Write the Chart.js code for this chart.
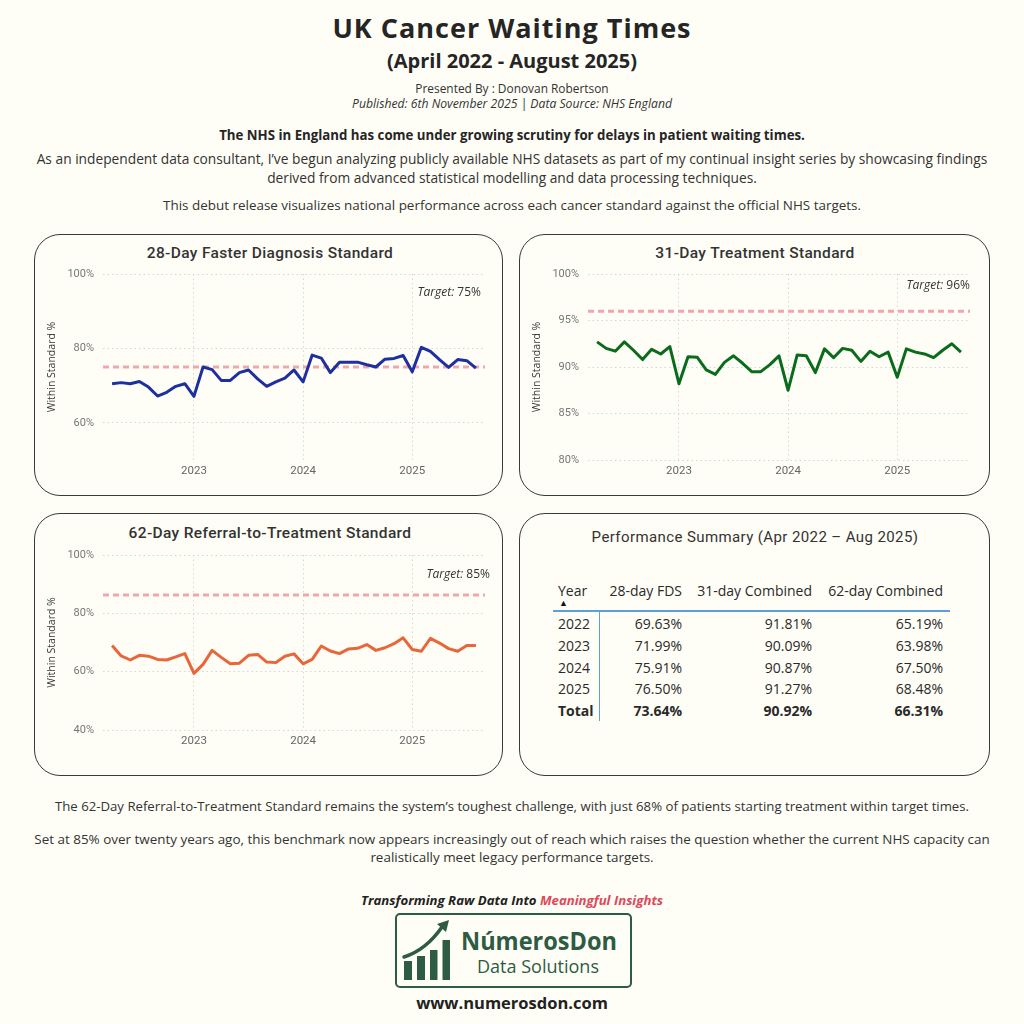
<!DOCTYPE html>
<html>
<head>
<meta charset="UTF-8">
<title>UK Cancer Waiting Times</title>
<script src="https://cdn.jsdelivr.net/npm/chart.js"></script>
<style>
  html, body { margin: 0; padding: 0; }
  body {
    width: 1024px; height: 1024px; position: relative; overflow: hidden;
    background: #fefef6; color: #252525;
    font-family: "Open Sans", sans-serif;
  }
  .t { position: absolute; left: 0; width: 1024px; text-align: center; white-space: nowrap; }
  .card { position: absolute; border: 1px solid #3a3a3a; border-radius: 26px; box-sizing: border-box; }
  .ctitle {
    position: absolute; width: 470px; text-align: center; white-space: nowrap;
    font-family: Roboto, sans-serif; font-size: 15.5px; font-weight: 500; letter-spacing: 0.35px; color: #333;
    line-height: 20px;
  }
  canvas { position: absolute; }
  .cell { position: absolute; font-size: 14px; line-height: 18px; color: #2a2a2a; white-space: nowrap; }
</style>
</head>
<body>

<div class="t" style="top:12px; font-size:27px; line-height:32px; font-weight:700; letter-spacing:1px;">UK Cancer Waiting Times</div>
<div class="t" style="top:49px; font-size:20px; line-height:24px; font-weight:700;">(April 2022 - August 2025)</div>
<div class="t" style="top:80px; font-size:11.9px; line-height:16px; color:#333;">Presented By : Donovan Robertson</div>
<div class="t" style="top:96px; font-size:12.2px; line-height:16px; font-style:italic; color:#333;">Published: 6th November 2025 | Data Source: NHS England</div>
<div class="t" style="top:127px; font-size:13.25px; line-height:16px; font-weight:700;">The NHS in England has come under growing scrutiny for delays in patient waiting times.</div>
<div class="t" style="top:149px; font-size:13.75px; line-height:19px; color:#333;">As an independent data consultant, I’ve begun analyzing publicly available NHS datasets as part of my continual insight series by showcasing findings<br>derived from advanced statistical modelling and data processing techniques.</div>
<div class="t" style="top:197px; font-size:13.45px; line-height:16px; color:#333;">This debut release visualizes national performance across each cancer standard against the official NHS targets.</div>

<div class="card" style="left:34px; top:234px; width:469px; height:262px;"></div>
<div class="card" style="left:519px; top:234px; width:471px; height:262px;"></div>
<div class="card" style="left:34px; top:513px; width:469px; height:263px;"></div>
<div class="card" style="left:519px; top:513px; width:471px; height:263px;"></div>

<div class="ctitle" style="left:35px; top:243px;">28-Day Faster Diagnosis Standard</div>
<div class="ctitle" style="left:520px; top:243px;">31-Day Treatment Standard</div>
<div class="ctitle" style="left:35px; top:523px;">62-Day Referral-to-Treatment Standard</div>
<div class="ctitle" style="left:520px; top:527px; font-size:15px; font-weight:400; letter-spacing:0.4px;">Performance Summary (Apr 2022 – Aug 2025)</div>

<canvas id="c1" width="464" height="225" style="left:36px; top:264px;"></canvas>
<canvas id="c2" width="464" height="225" style="left:521px; top:264px;"></canvas>
<canvas id="c3" width="464" height="214" style="left:36px; top:545px;"></canvas>

<div id="table"></div>

<div class="t" style="top:798px; font-size:13.2px; line-height:16px; color:#333;">The 62-Day Referral-to-Treatment Standard remains the system’s toughest challenge, with just 68% of patients starting treatment within target times.</div>
<div class="t" style="top:830px; font-size:13.45px; line-height:18px; color:#333;">Set at 85% over twenty years ago, this benchmark now appears increasingly out of reach which raises the question whether the current NHS capacity can<br>realistically meet legacy performance targets.</div>

<div class="t" style="top:892px; font-size:13.2px; line-height:17px; font-weight:700; font-style:italic; color:#222;">Transforming Raw Data Into <span style="color:#e0485a;">Meaningful Insights</span></div>

<svg style="position:absolute; left:395px; top:913px;" width="237" height="75" viewBox="0 0 237 75">
  <rect x="1" y="1" width="235" height="73" rx="4" fill="none" stroke="#2e5b43" stroke-width="2"/>
  <rect x="9" y="48" width="8" height="19" fill="#2e5b43"/>
  <rect x="22" y="43" width="8" height="24" fill="#2e5b43"/>
  <rect x="35" y="37" width="7.5" height="30" fill="#2e5b43"/>
  <rect x="47.5" y="27" width="7.5" height="40" fill="#2e5b43"/>
  <path d="M9 44 Q 31 37 47 14" fill="none" stroke="#2e5b43" stroke-width="3.5" stroke-linecap="round"/>
  <polygon points="54,7 42,11 51,19" fill="#2e5b43"/>
  <text x="66" y="36.5" font-family="Open Sans" font-weight="700" font-size="25" fill="#2e5b43" textLength="156" lengthAdjust="spacingAndGlyphs">NúmerosDon</text>
  <text x="82" y="59.5" font-family="Open Sans" font-size="17.5" fill="#2e5b43" textLength="122" lengthAdjust="spacingAndGlyphs">Data Solutions</text>
</svg>

<div class="t" style="top:993px; font-size:16.5px; line-height:20px; font-weight:700; color:#222;">www.numerosdon.com</div>

<script>
// monthly series, April 2022 (index 0) to August 2025 (index 40)
const fdsValues = [70.5, 70.8, 70.5, 71.1, 69.6, 67.2, 68.2, 69.8, 70.5, 67.1,
  75.0, 74.3, 71.4, 71.4, 73.5, 74.2, 71.8, 69.8, 71.0, 72.0,
  74.2, 71.0, 78.2, 77.4, 73.5, 76.3, 76.3, 76.3, 75.6, 75.0,
  77.1, 77.3, 78.1, 73.7, 80.3, 79.2, 77.0, 74.9, 77.0, 76.7, 74.7];
const treatValues = [92.7, 92.0, 91.7, 92.7, 91.8, 90.8, 91.9, 91.4, 92.2, 88.2,
  91.1, 91.05, 89.7, 89.2, 90.5, 91.2, 90.4, 89.5, 89.5, 90.25,
  91.2, 87.5, 91.3, 91.2, 89.4, 91.95, 91.0, 92.0, 91.8, 90.6,
  91.7, 91.1, 91.6, 88.9, 91.95, 91.6, 91.4, 91.0, 91.8, 92.5, 91.6];
const rttValues = [69.0, 65.4, 64.0, 65.6, 65.3, 64.2, 64.0, 65.1, 66.2, 59.4,
  62.5, 67.3, 64.9, 62.7, 62.9, 65.6, 65.9, 63.3, 63.1, 65.3,
  66.1, 62.7, 64.2, 68.8, 67.1, 66.2, 67.8, 68.0, 69.3, 67.3,
  68.2, 69.6, 71.6, 67.6, 67.0, 71.4, 69.8, 67.9, 67.0, 69.0, 69.0];

const yearTicks = [9, 21, 33];           // January of each year
const yearLabels = ['2023', '2024', '2025'];

const fdsTicks = [60, 80, 100];
const treatTicks = [80, 85, 90, 95, 100];
const rttTicks = [40, 60, 80, 100];

const fdsTarget = 75, treatTarget = 96, rttTarget = 85;
const rttTargetLine = 86.3;

// summary table
const tableHeaders = ['Year', '28-day FDS', '31-day Combined', '62-day Combined'];
const tableYears = ['2022', '2023', '2024', '2025', 'Total'];
const fdsYearly = [69.63, 71.99, 75.91, 76.50, 73.64];
const treatYearly = [91.81, 90.09, 90.87, 91.27, 90.92];
const rttYearly = [65.19, 63.98, 67.50, 68.48, 66.31];

const xMin = -1, xMax = 41;

const targetLabel = {
  id: 'targetLabel',
  afterDraw(chart, args, opts) {
    const { ctx, chartArea } = chart;
    ctx.save();
    ctx.textBaseline = 'middle';
    ctx.textAlign = 'right';
    ctx.fillStyle = '#333';
    const x = chartArea.right + opts.dx;
    const y = chartArea.top + opts.dy;
    const num = ' ' + opts.value + '%';
    ctx.font = '12px "Open Sans"';
    const w = ctx.measureText(num).width;
    ctx.fillText(num, x, y);
    ctx.font = 'italic 12px "Open Sans"';
    ctx.fillText('Target:', x - w, y);
    ctx.restore();
  }
};

function lineChart(id, values, color, yMin, yMax, yTicks, lineAt, label) {
  return new Chart(document.getElementById(id), {
    type: 'line',
    data: {
      datasets: [
        { data: values.map((v, i) => ({ x: i, y: v })), borderColor: color, borderWidth: 3,
          pointRadius: 0, tension: 0, borderJoinStyle: 'round' },
        { data: [{ x: xMin, y: lineAt }, { x: xMax, y: lineAt }], borderColor: '#f3a5ae',
          borderWidth: 3, borderDash: [6, 4], pointRadius: 0 }
      ]
    },
    plugins: [targetLabel],
    options: {
      responsive: false,
      animation: false,
      layout: { padding: { top: 10, right: 15, left: 0, bottom: 0 } },
      plugins: { legend: { display: false }, tooltip: { enabled: false }, targetLabel: label },
      scales: {
        x: {
          type: 'linear', min: xMin, max: xMax,
          afterBuildTicks: s => { s.ticks = yearTicks.map(v => ({ value: v })); },
          afterFit: s => { s.height = 29; s.paddingLeft = 0; s.paddingRight = 0; },
          ticks: {
            callback: v => yearLabels[yearTicks.indexOf(v)],
            color: '#666', font: { family: 'Roboto', size: 11.5 }, padding: 4,
            maxRotation: 0, autoSkip: false
          },
          grid: { color: '#d6d6d6', drawTicks: false },
          border: { display: false, dash: [1.5, 3] }
        },
        y: {
          min: yMin, max: yMax,
          afterBuildTicks: s => { s.ticks = yTicks.map(v => ({ value: v })); },
          afterFit: s => { s.width = 67; s.paddingTop = 0; s.paddingBottom = 0; },
          ticks: {
            callback: v => v + '%',
            color: '#777', font: { family: 'Roboto', size: 11 }, padding: 9
          },
          grid: { color: '#d6d6d6', drawTicks: false },
          border: { display: false, dash: [1.5, 3] },
          title: {
            display: true, text: 'Within Standard %', color: '#333',
            font: { family: 'Open Sans', size: 10.5 }, padding: { top: 10, bottom: 0 }
          }
        }
      }
    }
  });
}

lineChart('c1', fdsValues, '#1e2fa0', 50, 100, fdsTicks, fdsTarget,
  { value: fdsTarget, dx: -4, dy: 19 });
lineChart('c2', treatValues, '#0b6b1c', 80, 100, treatTicks, treatTarget,
  { value: treatTarget, dx: 0, dy: 12 });
lineChart('c3', rttValues, '#e8663a', 40, 100, rttTicks, rttTargetLine,
  { value: rttTarget, dx: 5, dy: 20 });

// summary table
const table = document.getElementById('table');
const colRight = [682, 812, 943];
function cell(text, style) {
  const d = document.createElement('div');
  d.className = 'cell';
  d.textContent = text;
  Object.assign(d.style, style);
  table.appendChild(d);
}
cell(tableHeaders[0], { left: '558px', top: '582px' });
tableHeaders.slice(1).forEach((h, j) => cell(h, { right: (1024 - colRight[j]) + 'px', top: '582px' }));
cell('▲', { left: '559px', top: '597px', fontSize: '9px', lineHeight: '11px', color: '#111' });
const cols = [fdsYearly, treatYearly, rttYearly];
tableYears.forEach((y, i) => {
  const top = (615 + i * 21.75) + 'px';
  const weight = y === 'Total' ? '700' : '400';
  cell(y, { left: '558px', top, fontWeight: weight });
  cols.forEach((c, j) => cell(c[i].toFixed(2) + '%', { right: (1024 - colRight[j]) + 'px', top, fontWeight: weight }));
});
const hline = document.createElement('div');
Object.assign(hline.style, { position: 'absolute', left: '553px', top: '610px', width: '397px', height: '1.5px', background: '#5b9fdc' });
table.appendChild(hline);
const vline = document.createElement('div');
Object.assign(vline.style, { position: 'absolute', left: '599px', top: '611px', width: '1px', height: '110px', background: '#5b9fdc' });
table.appendChild(vline);
</script>
</body>
</html>
